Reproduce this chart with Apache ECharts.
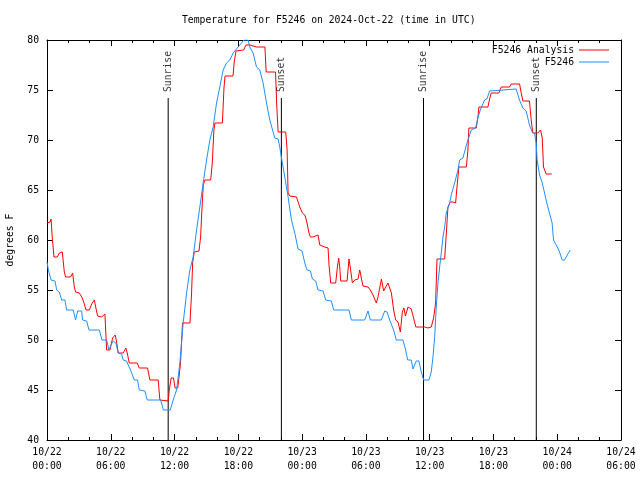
<!DOCTYPE html>
<html>
<head>
<meta charset="utf-8">
<script src="https://cdn.jsdelivr.net/npm/echarts@6/dist/echarts.min.js"></script>
<style>html,body{margin:0;padding:0;background:#fff;}#c{width:640px;height:480px;}</style>
</head>
<body>
<div id="c"></div>
<script>
// Hours since 2024-10-22 00:00 UTC
const xTickLabels = ['10/22\n00:00','10/22\n06:00','10/22\n12:00','10/22\n18:00','10/23\n00:00','10/23\n06:00','10/23\n12:00','10/23\n18:00','10/24\n00:00','10/24\n06:00'];

const analysisHours = [0,0.28,0.38,0.5,0.66,0.97,1.16,1.44,1.63,1.75,2.22,2.41,2.57,2.69,3.04,3.32,3.48,3.67,3.98,4.2,4.45,4.6,4.76,5.14,5.45,5.61,5.92,6.17,6.42,6.55,6.7,7.17,7.42,7.55,7.74,8.49,8.68,9.46,9.68,10.46,10.62,11.4,11.5,11.68,11.9,12.05,12.3,12.42,12.56,12.75,13.45,13.6,13.7,13.85,14.3,14.45,14.55,14.7,14.85,15.4,15.55,15.7,15.8,16.5,16.65,16.75,17.5,17.6,17.78,18.5,18.72,19.1,19.72,20.5,20.62,21.5,21.6,21.74,22.46,22.59,22.68,22.84,23.0,23.47,23.78,24.03,24.25,24.4,24.65,24.78,25.03,25.5,25.66,26.13,26.44,26.53,26.69,27.16,27.32,27.44,27.54,27.63,28.23,28.41,28.54,28.73,28.95,29.26,29.42,29.57,29.73,30.2,30.42,30.67,30.98,31.14,31.46,31.67,31.86,32.08,32.24,32.4,32.61,32.8,33.02,33.24,33.43,33.58,33.72,33.96,34.27,34.45,34.7,35.53,35.84,36.15,36.37,36.56,36.69,37.41,37.57,37.72,37.94,38.19,38.44,38.57,38.75,39.45,39.6,39.69,40.38,40.54,40.63,41.48,41.64,41.79,42.51,42.73,43.52,43.67,44.46,44.61,44.77,45.39,45.55,45.7,46.17,46.43,46.59,46.71,46.96,47.48];
const analysisTemps = [61.7,61.8,62.1,60.2,58.3,58.3,58.7,58.8,56.8,56.3,56.3,56.7,55.3,54.8,54.7,54.2,53.7,53.0,53.0,53.6,54.0,53.2,52.4,52.3,52.6,49.0,49.0,50.2,50.5,49.8,48.7,48.7,49.2,48.7,47.7,47.7,47.2,47.2,46.0,46.0,44.0,43.9,45.0,46.2,46.2,45.2,45.2,46.3,47.7,51.7,51.7,54.7,57.7,58.8,58.9,60.3,62.5,65.5,66.0,66.0,67.7,71.0,71.7,71.7,75.2,76.4,76.4,77.7,78.9,79.0,79.5,79.5,79.3,79.3,76.8,76.8,73.8,70.8,70.8,69.0,64.7,64.4,64.3,64.3,63.3,62.7,62.5,62.0,60.7,60.3,60.3,60.5,59.5,59.3,59.2,57.5,55.7,55.7,57.3,58.2,57.3,55.9,55.9,58.1,57.2,55.7,56.0,56.1,57.0,56.2,55.4,55.3,55.0,54.5,53.7,54.3,56.1,54.9,55.3,55.7,55.5,54.7,53.0,52.0,51.8,50.8,52.8,53.2,52.4,53.3,53.1,52.9,51.3,51.3,51.2,51.3,52.2,53.7,58.1,58.1,60.7,63.3,63.8,63.8,63.7,65.3,67.3,67.3,69.0,71.2,71.2,72.3,73.3,73.3,74.1,74.7,74.7,75.3,75.3,75.6,75.6,74.7,73.9,73.9,72.0,70.7,70.7,71.0,70.2,67.3,66.6,66.6];

const stationHours = [0,0.13,0.38,0.75,0.91,1.16,1.38,1.69,1.85,2.47,2.69,2.88,3.26,3.35,3.73,3.95,4.92,5.17,5.61,5.83,6.02,6.23,6.48,6.7,7.02,7.17,7.49,7.64,7.86,8.21,8.52,8.68,9.21,9.43,10.7,10.95,11.6,11.87,12.19,12.5,12.81,13.13,13.44,13.75,14.07,14.38,14.69,15.01,15.32,15.63,15.95,16.26,16.57,16.89,17.2,17.51,17.98,18.3,18.52,18.92,19.08,19.39,19.71,20.02,20.33,20.65,20.96,21.43,21.74,21.9,22.06,22.37,22.68,23.0,23.31,23.62,24.0,24.25,24.47,24.78,24.97,25.28,25.5,25.97,26.22,26.75,26.97,28.41,28.63,29.89,30.2,30.42,31.45,31.77,31.99,32.24,32.61,32.86,33.49,33.74,33.93,34.27,34.43,34.74,34.99,35.21,35.43,35.93,36.15,36.31,36.47,36.62,36.78,36.94,37.09,37.25,37.41,37.56,37.88,38.03,38.35,38.66,38.82,39.13,39.38,39.6,39.91,40.32,40.54,40.76,41.17,41.38,41.64,41.79,44.14,44.45,44.77,45.08,45.39,45.64,45.86,46.02,46.11,46.34,46.59,46.81,47.02,47.27,47.52,47.65,47.9,48.15,48.47,48.68,49.22];
const stationTemps = [57.8,57.0,56.0,55.9,55.0,54.8,54.0,54.0,53.0,53.0,52.0,52.9,52.9,52.0,51.9,51.0,51.0,50.0,50.0,49.0,49.5,49.9,49.7,48.7,48.6,48.0,47.9,47.5,47.0,46.0,46.0,45.0,44.9,44.0,44.0,43.0,43.0,44.0,45.0,47.7,51.7,54.7,57.0,58.3,61.0,63.3,65.7,68.0,70.0,71.3,73.7,75.3,77.0,77.7,78.0,78.7,79.3,79.7,80.0,80.0,79.3,78.7,77.3,77.0,75.7,73.7,72.0,70.2,70.1,69.3,68.2,66.3,64.3,62.0,60.7,59.1,58.9,57.7,57.0,56.9,56.1,55.9,55.0,54.9,54.0,53.9,53.0,53.0,52.0,52.0,52.9,52.0,52.0,52.9,52.8,52.0,51.0,50.0,50.0,49.0,48.0,48.0,47.1,47.9,47.9,46.8,46.0,46.0,46.8,48.3,50.3,53.3,55.7,57.3,58.7,60.3,61.3,62.7,63.7,64.5,65.7,67.0,68.0,68.2,69.2,70.0,71.0,71.2,72.2,73.0,74.0,74.1,74.9,75.1,75.1,74.0,73.2,72.9,71.5,70.8,70.7,69.7,68.0,66.5,65.7,64.7,63.7,62.7,61.7,60.0,59.5,59.0,58.0,58.0,59.0];

const sunHours = [11.4, 22.05, 35.42, 46.03];
const sunLabels = ['Sunrise', 'Sunset', 'Sunrise', 'Sunset'];
const sunLineTop = 74.2;
const sunLabelBase = 74.8;

const FONT = 'DejaVu Sans Mono';
const FS = 9.75;

function zip(a, b) { return a.map((v, i) => [v, b[i]]); }

const baseX = {
  type: 'value', min: 0, max: 54, interval: 6,
  axisLine: { show: true, onZero: false, lineStyle: { color: '#000', width: 1 } },
  axisTick: { show: true, inside: true, length: 6, lineStyle: { color: '#000' } },
  minorTick: { show: true, splitNumber: 3, length: 3, lineStyle: { color: '#000' } },
  splitLine: { show: false },
  minorSplitLine: { show: false }
};
const baseY = {
  type: 'value', min: 40, max: 80, interval: 5,
  axisLine: { show: true, onZero: false, lineStyle: { color: '#000', width: 1 } },
  axisTick: { show: true, inside: true, length: 6, lineStyle: { color: '#000' } },
  splitLine: { show: false }
};

const series = [
  {
    name: 'F5246 Analysis', type: 'line', data: zip(analysisHours, analysisTemps),
    symbol: 'none', showSymbol: false, lineStyle: { color: '#ff0000', width: 1 }, itemStyle: { color: '#ff0000' },
    z: 3
  },
  {
    name: 'F5246', type: 'line', data: zip(stationHours, stationTemps),
    symbol: 'none', showSymbol: false, lineStyle: { color: '#1e90ff', width: 1 }, itemStyle: { color: '#1e90ff' },
    z: 4
  }
];
sunHours.forEach((t, i) => {
  series.push({
    name: 'sun' + i, type: 'line', data: [[t, sunLineTop], [t, 40]],
    symbol: 'none', lineStyle: { color: '#000', width: 1 }, silent: true, z: 2
  });
});
series.push({
  name: 'sunText', type: 'scatter', symbolSize: 1, itemStyle: { color: 'rgba(0,0,0,0)' },
  data: sunHours.map((t, i) => [t, sunLabelBase, sunLabels[i]]),
  label: {
    show: true, position: 'inside', rotate: 90, align: 'left', verticalAlign: 'middle',
    formatter: p => p.data[2], color: '#000', fontFamily: FONT, fontSize: FS
  },
  silent: true, z: 5
});

const chart = echarts.init(document.getElementById('c'), null, { renderer: 'canvas' });
chart.setOption({
  animation: false,
  backgroundColor: '#fff',
  title: {
    text: 'Temperature for F5246 on 2024-Oct-22 (time in UTC)',
    left: 182, top: 15, padding: 0,
    textStyle: { fontFamily: FONT, fontSize: FS, fontWeight: 'normal', color: '#000' }
  },
  legend: {
    data: ['F5246 Analysis', 'F5246'],
    orient: 'vertical', align: 'right', right: 31, top: 44, padding: 0,
    icon: 'rect', itemWidth: 30, itemHeight: 1, itemGap: 0,
    textStyle: { fontFamily: FONT, fontSize: FS, color: '#000', lineHeight: 12 }
  },
  grid: { left: 47, right: 19, top: 40, bottom: 40, containLabel: false, outerBoundsMode: 'none' },
  xAxis: [
    Object.assign({}, baseX, {
      position: 'bottom',
      axisLabel: {
        show: true, margin: 5, color: '#000', fontFamily: FONT, fontSize: FS, lineHeight: 14,
        formatter: v => xTickLabels[Math.round(v / 6)] || ''
      }
    }),
    Object.assign({}, baseX, { position: 'top', axisLabel: { show: false } })
  ],
  yAxis: [
    Object.assign({}, baseY, {
      position: 'left',
      name: 'degrees F', nameLocation: 'middle', nameGap: 32, nameRotate: 90,
      nameTextStyle: { fontFamily: FONT, fontSize: FS, color: '#000' },
      axisLabel: { show: true, margin: 8, color: '#000', fontFamily: FONT, fontSize: FS }
    }),
    Object.assign({}, baseY, { position: 'right', axisLabel: { show: false } })
  ],
  series: series
});
</script>
</body>
</html>
